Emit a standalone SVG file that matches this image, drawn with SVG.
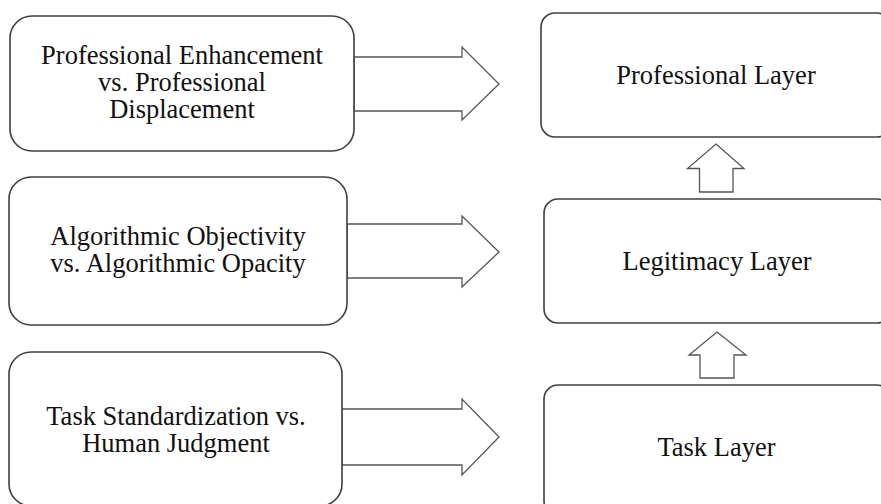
<svg xmlns="http://www.w3.org/2000/svg" width="881" height="504" viewBox="0 0 881 504">
<style>
.box{fill:#ffffff;stroke:#3f3f3f;stroke-width:1.6}
.arr{fill:#ffffff;stroke:#555555;stroke-width:1.3;stroke-linejoin:miter}
text{font-family:"Liberation Serif","Times New Roman",serif;font-size:26.5px;fill:#111111;text-anchor:middle}
</style>
<rect width="881" height="504" fill="#ffffff"/>
<g id="connectors">
<polygon class="arr" points="354,57 462,57 462,47 499,84 462,120 462,111 354,111"/>
<polygon class="arr" points="347,224 462,224 462,216 499,252 462,287 462,278 347,278"/>
<polygon class="arr" points="342,409 462,409 462,399 499,437 462,475 462,465 342,465"/>
<polygon class="arr" points="716,144 744,168.5 733,168.5 733,192 699.5,192 699.5,168.5 687.5,168.5"/>
<polygon class="arr" points="717,332 746,355 734,355 734,378 700,378 700,355 689,355"/>
</g>
<g id="node-enhancement">
<rect class="box" x="10" y="16" width="344" height="135" rx="22"/>
<text x="182" y="64">Professional Enhancement</text>
<text x="182" y="91">vs. Professional</text>
<text x="182" y="118">Displacement</text>
</g>
<g id="node-objectivity">
<rect class="box" x="9" y="177" width="338" height="148" rx="22"/>
<text x="178" y="245">Algorithmic Objectivity</text>
<text x="178" y="272">vs. Algorithmic Opacity</text>
</g>
<g id="node-standardization">
<rect class="box" x="9" y="352" width="333" height="154" rx="22"/>
<text x="176" y="425">Task Standardization vs.</text>
<text x="176" y="452">Human Judgment</text>
</g>
<g id="node-professional-layer">
<rect class="box" x="541" y="13" width="350" height="124" rx="14"/>
<text x="716" y="84">Professional Layer</text>
</g>
<g id="node-legitimacy-layer">
<rect class="box" x="544" y="199" width="347" height="124" rx="14"/>
<text x="717" y="270">Legitimacy Layer</text>
</g>
<g id="node-task-layer">
<rect class="box" x="544" y="385" width="347" height="130" rx="14"/>
<text x="716.5" y="456">Task Layer</text>
</g>
</svg>
